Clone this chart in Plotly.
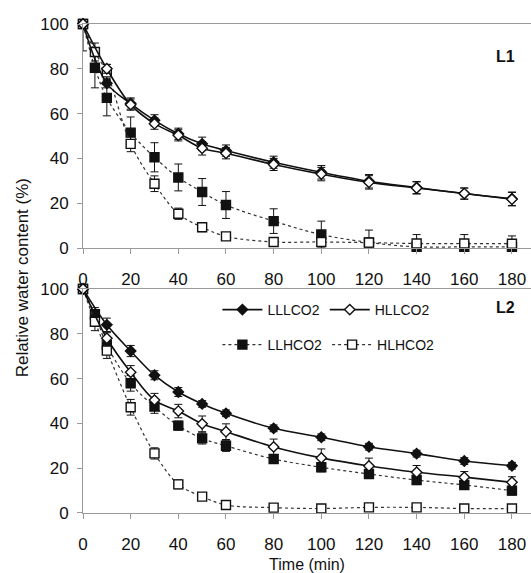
import plotly.graph_objects as go

# ---------------- data ----------------
t_dia = [0, 10, 20, 30, 40, 50, 60, 80, 100, 120, 140, 160, 180]
t_sq = [0, 5, 10, 20, 30, 40, 50, 60, 80, 100, 120, 140, 160, 180]
x_ticks = [0, 20, 40, 60, 80, 100, 120, 140, 160, 180]
y_ticks = [0, 20, 40, 60, 80, 100]

# Panel L1
L1_LLLCO2 = [100, 73.5, 64.5, 57, 51, 46.5, 43.5, 38.3, 33.8, 29.8, 27, 24.3, 22]
L1_LLLCO2_err = [0, 2, 2.5, 2.5, 2.5, 3, 2.5, 2.7, 3, 3, 2.7, 2.5, 3]
L1_HLLCO2 = [100, 80, 64, 55.5, 50.3, 44.5, 42.3, 37.3, 33, 29.3, 26.8, 24.3, 21.8]
L1_HLLCO2_err = [0, 2, 2.5, 2.5, 2.5, 3, 2.5, 2.7, 3, 3, 2.7, 2.5, 3]
L1_LLHCO2 = [100, 80.5, 67, 51.5, 40.5, 31.5, 25, 19.2, 12, 6, 2.5, 0.5, 0.5, 0.5]
L1_LLHCO2_err_up = [0, 9, 8, 7, 6.5, 6, 6, 6, 5.5, 6, 5.5, 1, 1, 1]
L1_LLHCO2_err_down = [12, 9, 8, 7, 6.5, 6, 6, 6, 5.5, 6, 5.5, 1, 1, 1]
L1_HLHCO2 = [100, 87.5, 78.4, 46.5, 28.7, 15.3, 9.3, 5.2, 2.7, 2.7, 2.4, 2, 2, 1.9]
L1_HLHCO2_err = [0, 4, 3.5, 3.5, 3.5, 2.5, 2, 1.2, 1.5, 2, 2, 4, 4, 3.5]

# Panel L2
L2_LLLCO2 = [100, 84, 72.3, 61.5, 54, 48.7, 44.5, 37.8, 33.8, 29.6, 26.5, 23.2, 21.1]
L2_LLLCO2_err = [0, 3, 2.5, 2, 2, 1.5, 1.5, 1.5, 1.5, 1.5, 1.5, 1.5, 1.5]
L2_HLLCO2 = [100, 78, 62.8, 50.4, 45.5, 39.8, 36.3, 29.5, 24.6, 21, 18.2, 16, 13.7]
L2_HLLCO2_err = [0, 2.5, 3, 3, 3, 3.5, 3.5, 3.5, 4, 3.5, 3, 2.5, 2.5]
L2_LLHCO2 = [100, 88.7, 75, 57.9, 47.5, 39, 33.3, 30, 24.1, 20.4, 17.4, 14.7, 12.5, 10]
L2_LLHCO2_err = [0, 3, 2.5, 3.5, 3, 2, 2.5, 2.5, 2, 2, 2, 2, 2, 2]
L2_HLHCO2 = [100, 85.4, 72.5, 47.2, 26.6, 12.8, 7.3, 3.6, 2.4, 2, 2.5, 2.5, 2, 2]
L2_HLHCO2_err = [0, 4, 3.5, 3.5, 2.5, 2, 1.5, 1.5, 0.5, 0.5, 0.5, 0.5, 0.5, 0.5]

# ---------------- styles ----------------
FONT = "Liberation Sans, Arial, sans-serif"
INK = "#111111"
AX = "#9a9a9a"

def style(name):
    if name == "LLLCO2":
        return dict(symbol="diamond", fill=INK, size=8, dash="solid", width=1.6, lc=INK)
    if name == "HLLCO2":
        return dict(symbol="diamond", fill="white", size=8, dash="solid", width=1.6, lc=INK)
    if name == "LLHCO2":
        return dict(symbol="square", fill=INK, size=9, dash="3px,3px", width=1.2, lc="#333333")
    return dict(symbol="square", fill="white", size=9, dash="3px,3px", width=1.2, lc="#333333")

fig = go.Figure()

def add(name, x, y, up, down, xa, ya, legend=None):
    s = style(name)
    fig.add_trace(go.Scatter(
        x=x, y=y, name=name, mode="lines+markers",
        line=dict(color=s["lc"], width=s["width"], dash=s["dash"], shape="spline", smoothing=1),
        marker=dict(symbol=s["symbol"], size=s["size"], color=s["fill"],
                    line=dict(color=INK, width=1.4)),
        error_y=dict(type="data", array=up, arrayminus=down, symmetric=False,
                     color=INK, thickness=1, width=4),
        xaxis=xa, yaxis=ya, cliponaxis=False,
        showlegend=legend is not None, legend=legend or "legend",
    ))

# dotted series first, then solid on top
add("LLHCO2", t_sq, L1_LLHCO2, L1_LLHCO2_err_up, L1_LLHCO2_err_down, "x", "y")
add("HLHCO2", t_sq, L1_HLHCO2, L1_HLHCO2_err, L1_HLHCO2_err, "x", "y")
add("LLLCO2", t_dia, L1_LLLCO2, L1_LLLCO2_err, L1_LLLCO2_err, "x", "y")
add("HLLCO2", t_dia, L1_HLLCO2, L1_HLLCO2_err, L1_HLLCO2_err, "x", "y")

add("LLHCO2", t_sq, L2_LLHCO2, L2_LLHCO2_err, L2_LLHCO2_err, "x2", "y2", "legend2")
add("HLHCO2", t_sq, L2_HLHCO2, L2_HLHCO2_err, L2_HLHCO2_err, "x2", "y2", "legend2")
add("LLLCO2", t_dia, L2_LLLCO2, L2_LLLCO2_err, L2_LLLCO2_err, "x2", "y2", "legend")
add("HLLCO2", t_dia, L2_HLLCO2, L2_HLLCO2_err, L2_HLLCO2_err, "x2", "y2", "legend")

xcommon = dict(range=[0, 188], tickvals=x_ticks, showline=True, linecolor=AX, linewidth=1,
               mirror=True, ticks="outside", ticklen=5, tickcolor=AX, showgrid=False,
               zeroline=False, tickfont=dict(family=FONT, size=17, color=INK),
               ticklabelstandoff=11)
ycommon = dict(range=[0, 100], tickvals=y_ticks, showline=True, linecolor=AX, linewidth=1,
               ticks="outside", ticklen=5, tickcolor=AX, showgrid=False, zeroline=False,
               tickfont=dict(family=FONT, size=17, color=INK), ticklabelstandoff=5)

fig.update_layout(
    width=531, height=573,
    margin=dict(l=83, r=0, t=24, b=60),
    paper_bgcolor="white", plot_bgcolor="white",
    xaxis=dict(domain=[0, 1], anchor="y", **xcommon),
    yaxis=dict(domain=[0.5419, 1], anchor="x", **ycommon),
    xaxis2=dict(domain=[0, 1], anchor="y2",
                title=dict(text="Time (min)", font=dict(family=FONT, size=16, color=INK), standoff=6),
                **xcommon),
    yaxis2=dict(domain=[0, 0.4581], anchor="x2", **ycommon),
    legend=dict(orientation="h", x=0.30, y=0.4151, xanchor="left", yanchor="middle",
                bgcolor="rgba(0,0,0,0)", font=dict(family=FONT, size=14, color=INK),
                itemclick=False, itemwidth=40),
    legend2=dict(orientation="h", x=0.30, y=0.3436, xanchor="left", yanchor="middle",
                 bgcolor="rgba(0,0,0,0)", font=dict(family=FONT, size=14, color=INK),
                 itemclick=False, itemwidth=40),
    annotations=[
        dict(text="<b>L1</b>", x=0.969, y=0.955, xref="paper", yref="paper",
             showarrow=False, font=dict(family=FONT, size=16, color=INK)),
        dict(text="<b>L2</b>", x=0.969, y=0.421, xref="paper", yref="paper",
             showarrow=False, font=dict(family=FONT, size=16, color=INK)),
        dict(text="Relative water content (%)", textangle=-90, x=-0.136, y=0.48,
             xanchor="center", yanchor="middle",
             xref="paper", yref="paper", showarrow=False,
             font=dict(family=FONT, size=17, color=INK)),
    ],
)

fig.write_html("out.html")
